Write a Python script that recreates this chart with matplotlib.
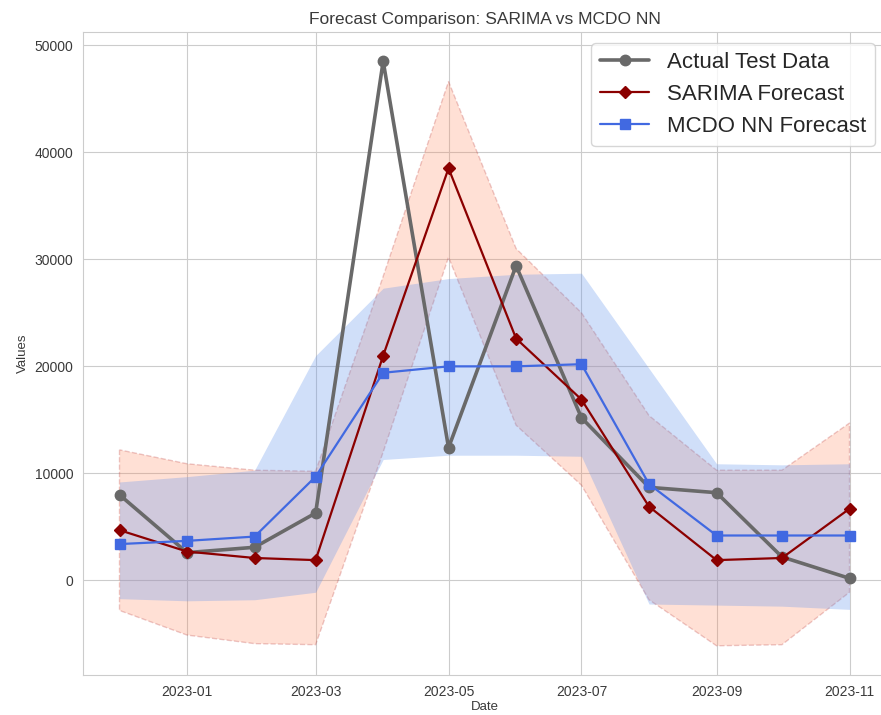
import numpy as np
import pandas as pd
import matplotlib
matplotlib.use('Agg')
import matplotlib.pyplot as plt
import seaborn as sns

# monthly test window
dates = pd.date_range('2022-12-01', periods=12, freq='MS')

actual = [8000, 2600, 3100, 6300, 48500, 12400, 29400, 15200, 8700, 8200, 2200, 200]

sarima = [4700, 2700, 2100, 1900, 21000, 38500, 22600, 16900, 6900, 1900, 2100, 6700]
sarima_lo = [-2800, -5100, -5900, -6000, 12000, 30200, 14500, 8900, -1800, -6100, -6000, -1100]
sarima_hi = [12200, 10900, 10300, 10200, 28400, 46600, 31000, 25000, 15400, 10300, 10300, 14700]

mcdo = [3400, 3700, 4100, 9700, 19400, 20000, 20000, 20200, 9000, 4200, 4200, 4200]
mcdo_lo = [-1700, -1900, -1800, -1100, 11300, 11700, 11700, 11600, -2200, -2300, -2400, -2700]
mcdo_hi = [9200, 9700, 10300, 21000, 27300, 28200, 28600, 28700, 19800, 10900, 10800, 10900]

sns.set_style('whitegrid')
plt.rcParams['font.family'] = ['Liberation Sans', 'DejaVu Sans']

fig = plt.figure(figsize=(8.81, 7.15), dpi=100)
ax = fig.add_axes([83 / 881, 40 / 715, 803 / 881, 643 / 715])

# confidence bands
ax.fill_between(dates, sarima_lo, sarima_hi, facecolor='coral', edgecolor='firebrick',
                alpha=0.24, linestyle='--', linewidth=1)
ax.fill_between(dates, mcdo_lo, mcdo_hi, color='cornflowerblue', alpha=0.3, linewidth=0)

ax.plot(dates, actual, color='dimgray', marker='o', markersize=7.5, linewidth=2.6,
        label='Actual Test Data')
ax.plot(dates, sarima, color='darkred', marker='D', markersize=6.5, linewidth=1.6,
        label='SARIMA Forecast')
ax.plot(dates, mcdo, color='royalblue', marker='s', markersize=6.5, linewidth=1.6,
        label='MCDO NN Forecast')

ax.xaxis.set_major_locator(matplotlib.dates.MonthLocator(bymonth=[1, 3, 5, 7, 9, 11]))
ax.xaxis.set_major_formatter(matplotlib.dates.DateFormatter('%Y-%m'))
ax.tick_params(labelsize=10, colors='#3a3a3a')

ax.set_title('Forecast Comparison: SARIMA vs MCDO NN', fontsize=12.5, color='#3a3a3a')
ax.set_xlabel('Date', fontsize=9.5, color='#3a3a3a', labelpad=2)
ax.set_ylabel('Values', fontsize=9.5, color='#3a3a3a')

ax.legend(loc='upper right', fontsize=16, frameon=True, handlelength=2.2)

fig.savefig('out.png', dpi=100)
